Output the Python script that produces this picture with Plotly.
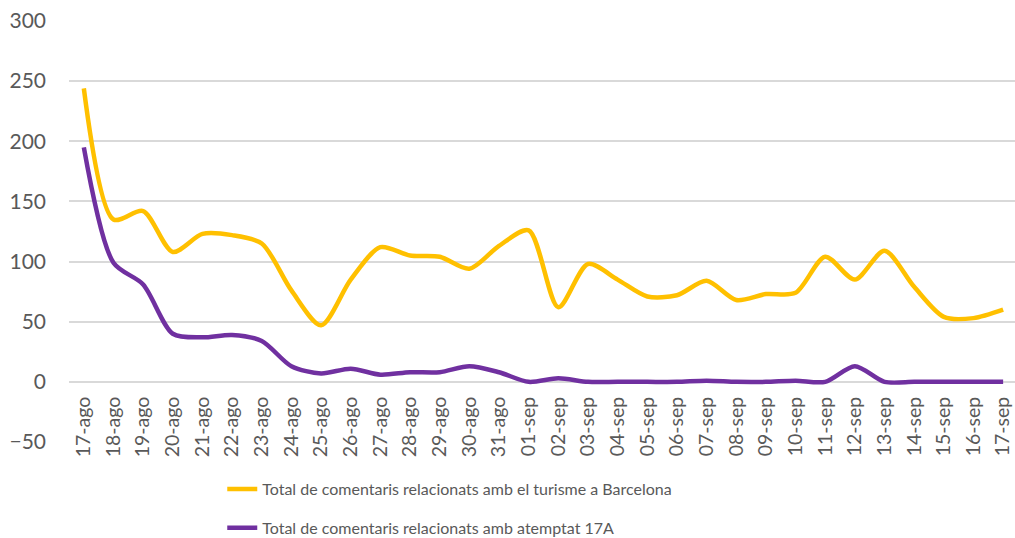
import plotly.graph_objects as go

categories = ["17-ago", "18-ago", "19-ago", "20-ago", "21-ago", "22-ago", "23-ago", "24-ago",
              "25-ago", "26-ago", "27-ago", "28-ago", "29-ago", "30-ago", "31-ago", "01-sep",
              "02-sep", "03-sep", "04-sep", "05-sep", "06-sep", "07-sep", "08-sep", "09-sep",
              "10-sep", "11-sep", "12-sep", "13-sep", "14-sep", "15-sep", "16-sep", "17-sep"]

turisme = [244, 135, 142, 108, 123, 122, 115, 76, 47, 85, 112, 105, 104, 94, 113, 126,
           62, 98, 85, 71, 72, 84, 68, 73, 74, 104, 85, 109, 79, 54, 53, 60]

atemptat = [195, 99, 81, 40, 37, 39, 34, 13, 7, 11, 6, 8, 8, 13, 8, 0,
            3, 0, 0, 0, 0, 1, 0, 0, 1, 0, 13, 0, 0, 0, 0, 0]

names = ["Total de comentaris relacionats amb el turisme a Barcelona",
         "Total de comentaris relacionats amb atemptat 17A"]
colors = ["#FFC000", "#7030A0"]

fig = go.Figure()
for i, (vals, nm, col) in enumerate(zip([turisme, atemptat], names, colors)):
    fig.add_trace(go.Scatter(
        x=list(range(len(categories))), y=vals, name=nm, mode="lines",
        line=dict(color=col, width=4.5, shape="spline", smoothing=0.8),
        legendgroup=f"g{i}",
    ))

y0_pos = 50 / 350
fig.update_layout(
    width=1015, height=538,
    margin=dict(l=69, r=0, t=21, b=96, autoexpand=False),
    plot_bgcolor="white", paper_bgcolor="white",
    font=dict(family="Lato, Open Sans, sans-serif", color="#595959", size=17),
    xaxis=dict(
        tickmode="array", tickvals=list(range(len(categories))), ticktext=categories,
        range=[-0.5, 31.4], tickangle=-90, showgrid=False, zeroline=False,
        anchor="free", position=y0_pos, showline=False, ticks="",
        tickfont=dict(size=19.5, color="#595959"), automargin=False,
        ticklabelstandoff=10,
    ),
    yaxis=dict(
        range=[-50, 300], dtick=50, showgrid=True, gridcolor="#D9D9D9", gridwidth=1.5,
        zeroline=True, zerolinecolor="#D9D9D9", zerolinewidth=1.5,
        tickfont=dict(size=21, color="#595959"), ticks="", ticklabelstandoff=22,
        automargin=False,
    ),
    showlegend=True,
    legend=dict(
        orientation="v", x=0.162, xanchor="left", y=-0.0713, yanchor="top",
        font=dict(size=16, color="#595959"), tracegroupgap=15,
        traceorder="grouped", itemwidth=30,
    ),
)

fig.write_html("out.html", config={"displayModeBar": False},
               post_script="document.body.style.margin='0';document.body.style.overflow='hidden';")
